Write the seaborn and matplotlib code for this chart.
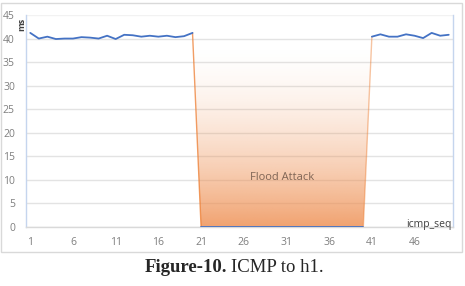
import numpy as np
import pandas as pd
import seaborn as sns
import matplotlib
matplotlib.use("Agg")
import matplotlib.pyplot as plt
from matplotlib.patches import Rectangle

# ---- data ----
seq = list(range(1, 51))
rtt_before = [41.2, 40.0, 40.4, 39.9, 40.0, 40.0, 40.3, 40.2, 40.0, 40.6,
              39.9, 40.8, 40.7, 40.4, 40.6, 40.4, 40.6, 40.3, 40.5, 41.2]
rtt_attack = [0.0] * 20
rtt_after = [40.4, 40.9, 40.4, 40.4, 40.9, 40.6, 40.1, 41.2, 40.6, 40.8]
segments = ["before"] * 20 + ["attack"] * 20 + ["after"] * 10
attack_label = "Flood Attack"
x_ticks = [1, 6, 11, 16, 21, 26, 31, 36, 41, 46]
y_ticks = [0, 5, 10, 15, 20, 25, 30, 35, 40, 45]

rtt = rtt_before + rtt_attack + rtt_after
df = pd.DataFrame({"seq": seq, "rtt": rtt, "segment": segments})

# transition (orange) series: last point before attack .. first point after
edge_df = df[(df.seq >= 20) & (df.seq <= 41)].copy()

sns.set_style("white")
plt.rcParams["font.family"] = ["Open Sans", "DejaVu Sans"]

W, H = 465, 286
fig = plt.figure(figsize=(W / 100, H / 100), dpi=100)
ax = fig.add_axes([26 / W, 1 - 227 / H, (453 - 26) / W, (227 - 15) / H])

blue = "#4472C4"
orange = "#ED7D31"

# gradient fill above the attack line
poly = ax.fill_between(edge_df.seq, edge_df.rtt, 41.2, color="none", lw=0)
path = poly.get_paths()[0]
grad = np.linspace(0, 1, 256)[:, None]
rgba = np.zeros((256, 2, 4))
c = np.array(matplotlib.colors.to_rgb("#EE8E50"))
rgba[..., :3] = c
rgba[..., 3] = 0.82 * np.clip(1 - grad / 0.95, 0, 1) ** 1.7
img = ax.imshow(rgba, extent=[20, 41, 0, 41.2], origin="lower", aspect="auto",
                interpolation="bilinear", zorder=1)
img.set_clip_path(path, ax.transData)

# orange transition lines
sns.lineplot(data=edge_df[edge_df.seq.isin([20, 21])], x="seq", y="rtt",
             color=orange, lw=1.0, ax=ax, zorder=2, alpha=0.75)
sns.lineplot(data=edge_df[edge_df.seq.isin([40, 41])], x="seq", y="rtt",
             color=orange, lw=1.0, ax=ax, zorder=2, alpha=0.45)

# blue series
sns.lineplot(data=df, x="seq", y="rtt", units="segment", estimator=None,
             color=blue, lw=1.3, ax=ax, zorder=3)

ax.set_xlim(0.5, 50.5)
ax.set_ylim(0, 45)
ax.set_xticks(x_ticks)
ax.set_yticks(y_ticks)
ax.set_xticklabels([str(t) for t in x_ticks])
ax.set_yticklabels([str(t) for t in y_ticks])
ax.tick_params(axis="both", length=0, labelsize=7.5, labelcolor="#7F7F7F")
ax.tick_params(axis="x", pad=7)
ax.tick_params(axis="y", pad=8)
ax.yaxis.grid(True, color="#E3E3E3", lw=1.0)
ax.set_axisbelow(True)
ax.set_xlabel("")
ax.set_ylabel("")
ax.spines["top"].set_visible(False)
ax.spines["left"].set_color("#C5D5EE")
ax.spines["right"].set_color("#C5D5EE")
ax.spines["bottom"].set_color("#D9D9D9")
for s in ["left", "right", "bottom"]:
    ax.spines[s].set_linewidth(1.0)
# the top gridline is fainter in the reference
ax.get_ygridlines()[-1].set_color("#F2F2F2")

# labels
ax.text(0.0, 0.985, "ms", transform=ax.transAxes, rotation=90, ha="right",
        va="top", fontsize=6.5, color="#404040", fontweight="bold")
ax.text(0.997, 0.01, "icmp_seq", transform=ax.transAxes, ha="right",
        va="center", fontsize=7.5, color="#404040")
ax.text(30.5, 10.5, attack_label, ha="center", va="center", fontsize=8,
        color="#7F6555", zorder=4)

# chart border
fig.patches.append(Rectangle((1 / W, 1 - 252 / H), 461 / W, 249 / H,
                             transform=fig.transFigure, fill=False,
                             ec="#D9D9D9", lw=1.0))

# caption
fig.text(227 / W, 1 - 268 / H, "Figure-10.", ha="right", va="center",
         fontsize=13.5, fontweight="bold", family="Liberation Serif")
fig.text(231 / W, 1 - 268 / H, "ICMP to h1.", ha="left", va="center",
         fontsize=13.5, family="Liberation Serif")

fig.savefig("out.png", dpi=100)
